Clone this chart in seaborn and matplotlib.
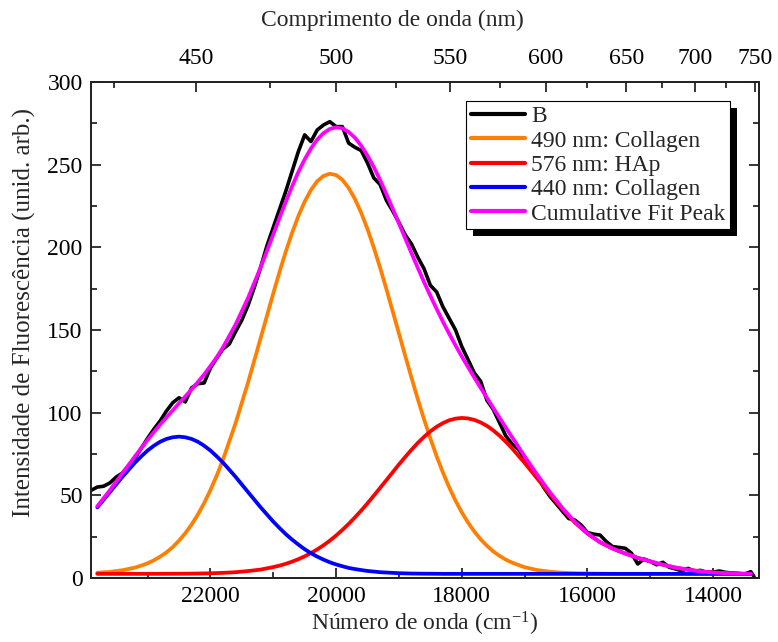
import numpy as np
import pandas as pd
import seaborn as sns
import matplotlib.pyplot as plt
from matplotlib.patches import Rectangle

# ---------------- data ----------------
NU_B = [23900, 23800, 23700, 23600, 23500, 23400, 23300, 23200, 23100, 23000,
        22900, 22800, 22700, 22600, 22500, 22400, 22300, 22200, 22100, 22000,
        21900, 21800, 21700, 21600, 21500, 21400, 21300, 21200, 21100, 21000,
        20900, 20800, 20700, 20600, 20500, 20400, 20300, 20200, 20100, 20000,
        19900, 19800, 19700, 19600, 19500, 19400, 19300, 19200, 19100, 19000,
        18900, 18800, 18700, 18600, 18500, 18400, 18300, 18200, 18100, 18000,
        17900, 17800, 17700, 17600, 17500, 17400, 17300, 17200, 17100, 17000,
        16900, 16800, 16700, 16600, 16500, 16400, 16300, 16200, 16100, 16000,
        15900, 15800, 15700, 15600, 15500, 15400, 15300, 15200, 15100, 15000,
        14900, 14800, 14700, 14600, 14500, 14400, 14300, 14200, 14100, 14000,
        13900, 13800, 13700, 13600, 13500, 13400, 13350]
B = [53, 55, 55.5, 57.5, 61, 63.5, 68, 72.5, 78.5, 84.5,
     90, 95, 101, 106, 109, 106.5, 115, 117.5, 118, 127,
     133, 138.5, 141.5, 149, 156, 165, 176, 188, 201, 212,
     223, 234, 246, 258, 268, 264, 271, 274, 276, 273,
     273, 263, 260.5, 258.5, 251, 242, 238, 228.5, 222, 215,
     207.5, 202, 194, 187, 177, 173, 164, 157, 150, 140,
     132, 124, 119, 107.5, 102, 94, 86, 81, 78, 72,
     67, 62, 55, 49.5, 45, 40.5, 36, 35, 32, 27.5,
     26.5, 26, 22, 19, 18.5, 18, 15, 8.5, 11.5, 10,
     8, 9.5, 6.5, 5.5, 4.3, 5.8, 4.2, 4.6, 3.4, 3.6,
     4.2, 3.4, 3.0, 2.8, 2.4, 3.8, 0.8]

NU_FIT = [23800, 23600, 23400, 23200,
          23100, 23000, 22900, 22800, 22700, 22600, 22500, 22400, 22300, 22200,
          22100, 22000, 21900, 21800,
          21600, 21400, 21200,
          21000, 20900, 20800, 20700, 20600, 20500, 20400, 20300, 20200, 20100,
          20000, 19900, 19800, 19700, 19600, 19500, 19400, 19300, 19200,
          19000,
          18900, 18800, 18700, 18600, 18500, 18400, 18300, 18200, 18100, 18000,
          17900, 17800, 17700, 17600, 17500, 17400, 17300, 17200,
          17000, 16800, 16600, 16400, 16200, 16000, 15800, 15600, 15400, 15200,
          15000, 14800, 14600, 14400, 14200, 14000, 13800, 13600, 13400]
PEAK_490 = [3.2, 3.7, 4.7, 6.3,
            7.5, 8.9, 10.7, 12.9, 15.5, 18.7, 22.6, 27.1, 32.3, 38.4,
            45.3, 53.2, 61.9, 71.6,
            93.6, 118.4, 145.2,
            172.1, 185.2, 197.5, 208.8, 219.0, 227.7, 234.7, 240.0, 243.2, 244.5,
            243.7, 240.8, 235.9, 229.2, 220.8, 211.0, 199.8, 187.7, 174.8,
            147.9,
            134.4, 121.1, 108.2, 95.9, 84.4, 73.6, 63.8, 54.8, 46.8, 39.7,
            33.5, 28.1, 23.4, 19.5, 16.1, 13.4, 11.1, 9.3,
            6.5, 4.8, 3.8, 3.2, 2.9, 2.7, 2.6, 2.5, 2.5, 2.5,
            2.5, 2.5, 2.5, 2.5, 2.5, 2.5, 2.5, 2.5, 2.5]
PEAK_576 = [2.5, 2.5, 2.5, 2.5,
            2.51, 2.51, 2.52, 2.53, 2.54, 2.56, 2.58, 2.61, 2.65, 2.7,
            2.77, 2.85, 2.97, 3.1,
            3.5, 4.2, 5.1,
            6.6, 7.5, 8.6, 9.9, 11.4, 13.1, 15.1, 17.3, 19.8, 22.6,
            25.7, 29.1, 32.7, 36.7, 40.8, 45.2, 49.8, 54.5, 59.2,
            68.7,
            73.2, 77.6, 81.7, 85.4, 88.7, 91.5, 93.7, 95.4, 96.4, 96.8,
            96.5, 95.6, 94.1, 92.0, 89.3, 86.1, 82.4, 78.4,
            69.6, 60.2, 50.7, 41.7, 33.5, 26.8, 21.6, 17.8, 14.8, 12.2,
            10.0, 8.0, 6.3, 5.0, 4.0, 3.3, 2.9, 2.6, 2.5]
PEAK_440 = [42.7, 51.9, 61.2, 69.8,
            73.6, 77.1, 80.0, 82.4, 84.1, 85.1, 85.5, 85.1, 84.1, 82.4,
            80.0, 77.1, 73.6, 69.8,
            61.2, 51.9, 42.7,
            34.1, 30.2, 26.5, 23.2, 20.2, 17.4, 15.0, 12.9, 11.1, 9.5,
            8.2, 7.1, 6.1, 5.4, 4.8, 4.25, 3.9, 3.5, 3.3,
            2.9,
            2.8, 2.7, 2.65, 2.6, 2.58, 2.55, 2.5, 2.5, 2.5, 2.5,
            2.5, 2.5, 2.5, 2.5, 2.5, 2.5, 2.5, 2.5,
            2.5, 2.5, 2.5, 2.5, 2.5, 2.5, 2.5, 2.5, 2.5, 2.5,
            2.5, 2.5, 2.5, 2.5, 2.5, 2.5, 2.5, 2.5, 2.5]
CUMULATIVE = [43.4, 53.1, 63.4, 73.6,
              78.6, 83.5, 88.2, 92.8, 97.1, 101.4, 105.7, 109.8, 114.1, 118.5,
              123.1, 128.2, 133.5, 139.5,
              153.3, 169.5, 188.0,
              207.8, 217.9, 227.6, 236.9, 245.6, 253.2, 259.8, 265.2, 269.1, 271.6,
              272.6, 272.0, 269.7, 266.3, 261.4, 255.5, 248.5, 240.7, 232.3,
              214.5,
              205.4, 196.4, 187.6, 178.9, 170.7, 162.7, 155.0, 147.7, 140.7, 134.0,
              127.5, 121.2, 115.0, 109.0, 102.9, 97.0, 91.0, 85.2,
              73.6, 62.5, 52.0, 42.4, 33.9, 27.0, 21.7, 17.8, 14.8, 12.2,
              10.0, 8.0, 6.3, 5.0, 4.0, 3.3, 2.9, 2.6, 2.5]

LABELS = ["B", "490 nm: Collagen", "576 nm: HAp", "440 nm: Collagen", "Cumulative Fit Peak"]
COLORS = ["#000000", "#FF8000", "#FF0000", "#0000FF", "#FF00FF"]

X_TICKS = [22000, 20000, 18000, 16000, 14000]
X_MINOR = [23000, 21000, 19000, 17000, 15000]
WL_TICKS = [450, 500, 550, 600, 650, 700, 750]
WL_MINOR = [425, 475, 525, 575, 625, 675, 725]
Y_TICKS = [0, 50, 100, 150, 200, 250, 300]
Y_MINOR = [25, 75, 125, 175, 225, 275]

# ---------------- style ----------------
sns.set_theme(style="ticks")
plt.rcParams['font.family'] = ['Liberation Serif', 'DejaVu Serif']
plt.rcParams['mathtext.fontset'] = 'custom'
plt.rcParams['mathtext.rm'] = 'Liberation Serif'
plt.rcParams['mathtext.it'] = 'Liberation Serif:italic'
FS = 17

fig, ax = plt.subplots(figsize=(7.78, 6.42), dpi=100)
fig.subplots_adjust(left=0.117, right=0.9756, bottom=0.0997, top=0.8723)

df_b = pd.DataFrame({"nu": NU_B, "y": B})
sns.lineplot(data=df_b, x="nu", y="y", color=COLORS[0], lw=2.6, ax=ax,
             label=LABELS[0], sort=False, estimator=None)
for series, lab, col in [(PEAK_490, LABELS[1], COLORS[1]),
                         (PEAK_576, LABELS[2], COLORS[2]),
                         (PEAK_440, LABELS[3], COLORS[3]),
                         (CUMULATIVE, LABELS[4], COLORS[4])]:
    d = pd.DataFrame({"nu": NU_FIT, "y": series})
    sns.lineplot(data=d, x="nu", y="y", color=col, lw=2.7, ax=ax,
                 label=lab, sort=False, estimator=None)

ax.set_xlim(23900, 13270)
ax.set_ylim(0, 300)
ax.set_xticks(X_TICKS)
ax.set_xticks(X_MINOR, minor=True)
ax.set_yticks(Y_TICKS)
ax.set_yticks(Y_MINOR, minor=True)
ax.set_xticklabels([str(v) for v in X_TICKS])
ax.set_yticklabels([str(v) for v in Y_TICKS])
ax.tick_params(axis='both', which='both', direction='in', labelsize=FS,
               width=1.1, colors='black')
ax.tick_params(axis='x', which='both', pad=6)
ax.tick_params(axis='y', which='both', right=True, pad=6)
ax.tick_params(which='major', length=7)
ax.tick_params(which='minor', length=4)
for s in ax.spines.values():
    s.set_linewidth(1.3)
    s.set_color('black')

ax.set_xlabel(r"Número de onda (cm$^{\mathrm{-1}}$)", fontsize=FS, labelpad=2)
ax.set_ylabel("Intensidade de Fluorescência (unid. arb.)", fontsize=18, labelpad=8)
ax.yaxis.label.set_y(0.536)

ax2 = ax.twiny()
ax2.set_xlim(ax.get_xlim())
ax2.set_xticks([1e7 / w for w in WL_TICKS])
ax2.set_xticklabels([str(w) for w in WL_TICKS])
ax2.set_xticks([1e7 / w for w in WL_MINOR], minor=True)
ax2.tick_params(axis='x', which='both', direction='in', labelsize=FS,
                width=1.1, colors='black', pad=9.5)
ax2.tick_params(which='major', length=7)
ax2.tick_params(which='minor', length=4)
ax2.set_xlabel("Comprimento de onda (nm)", fontsize=FS, labelpad=16)
ax2.xaxis.label.set_x(0.4506)
for s in ax2.spines.values():
    s.set_linewidth(1.3)

leg = ax.legend(loc='upper right', bbox_to_anchor=(0.9566, 0.9617),
                borderaxespad=0, fontsize=FS, frameon=True, fancybox=False,
                edgecolor='black', framealpha=1, borderpad=0.2,
                labelspacing=0.12, handlelength=2.3, handletextpad=0.25)
leg.get_frame().set_linewidth(0.8)
for h in leg.get_lines():
    h.set_linewidth(3)
leg.set_zorder(10)

fig.canvas.draw()
bb = leg.get_frame().get_window_extent()
inv = fig.transFigure.inverted()
(x0, y0) = inv.transform((bb.x0 + 7, bb.y0 - 7))
(x1, y1) = inv.transform((bb.x1 + 7, bb.y1 - 7))
shadow = Rectangle((x0, y0), x1 - x0, y1 - y0, transform=fig.transFigure,
                   facecolor='black', edgecolor='none', zorder=9)
ax.add_artist(shadow)
shadow.set_clip_on(False)

fig.savefig("out.png", dpi=100)
